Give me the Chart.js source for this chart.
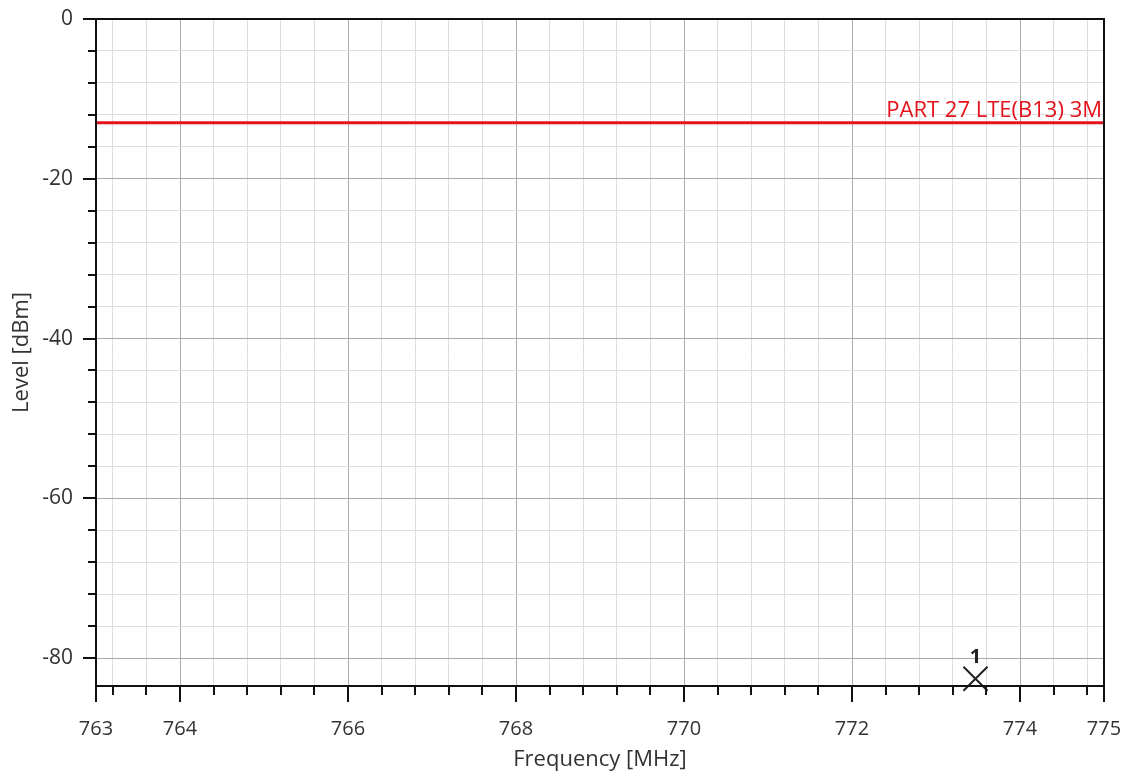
<!DOCTYPE html>
<html>
<head>
<meta charset="utf-8">
<title>Level vs Frequency</title>
<script src="https://cdn.jsdelivr.net/npm/chart.js@4"></script>
<style>
  html, body { margin: 0; padding: 0; background: #fff; }
  #wrap { width: 1127px; height: 774px; }
</style>
</head>
<body>
<div id="wrap"><canvas id="chartLevel"></canvas></div>
<script>
// axis ranges and labelled ticks
const freqRange = [763, 775]
const levelRange = [-83.5, 0]
const freqLabels = [763, 764, 766, 768, 770, 772, 774, 775]
const levelLabels = [0, -20, -40, -60, -80]

// limit line
const limitFreq = [763, 775]
const limitLevel = [-13, -13]
const limitName = "PART 27 LTE(B13) 3M"

// marker
const markerFreq = [773.47]
const markerLevel = [-82.6]
const markerNames = ["1"]

const freqStep = 0.4
const levelStep = 4
const fontFamily = "'Open Sans', 'DejaVu Sans', sans-serif"

function buildTicks(min, max, step, labels) {
    const vals = new Set(labels)
    for (let k = Math.ceil(min / step - 1e-9); k * step <= max + 1e-9; k++) {
        vals.add(Math.round(k * step * 10) / 10)
    }
    return [...vals].filter(v => v >= min && v <= max).sort((a, b) => a - b).map(v => ({ value: v }))
}

const decorPlugin = {
    id: "decor",
    afterDatasetsDraw(chart) {
        const { ctx, chartArea: a, scales: { x, y } } = chart
        ctx.save()

        // limit label, clipped to the plot
        ctx.save()
        ctx.beginPath()
        ctx.rect(a.left, a.top, a.right - a.left, a.bottom - a.top)
        ctx.clip()
        ctx.fillStyle = "#e5121b"
        ctx.font = "22px " + fontFamily
        ctx.textAlign = "right"
        ctx.textBaseline = "alphabetic"
        ctx.fillText(limitName, a.right - 2, y.getPixelForValue(limitLevel[1]) - 6)
        ctx.restore()

        // frame
        ctx.strokeStyle = "#111"
        ctx.lineWidth = 2
        ctx.strokeRect(a.left, a.top, a.right - a.left, a.bottom - a.top)

        // tick marks
        ctx.beginPath()
        x.ticks.forEach(t => {
            const px = Math.round(x.getPixelForValue(t.value))
            const len = freqLabels.includes(t.value) ? 16 : 9
            ctx.moveTo(px, a.bottom)
            ctx.lineTo(px, a.bottom + len)
        })
        y.ticks.forEach(t => {
            const py = Math.round(y.getPixelForValue(t.value))
            const len = levelLabels.includes(t.value) ? 13 : 8
            ctx.moveTo(a.left, py)
            ctx.lineTo(a.left - len, py)
        })
        ctx.stroke()

        // marker names
        const meta = chart.getDatasetMeta(1)
        ctx.fillStyle = "#222"
        ctx.font = "bold 20px " + fontFamily
        ctx.textAlign = "center"
        ctx.textBaseline = "alphabetic"
        meta.data.forEach((pt, i) => {
            ctx.fillText(markerNames[i], pt.x, pt.y - 16)
        })
        ctx.restore()
    }
}

const config = {
    type: "line",
    data: {
        datasets: [
            {
                label: limitName,
                data: limitFreq.map((f, i) => ({ x: f, y: limitLevel[i] })),
                borderColor: "#e5121b",
                borderWidth: 3,
                pointRadius: 0,
                fill: false,
            },
            {
                type: "scatter",
                label: "Marker",
                data: markerFreq.map((f, i) => ({ x: f, y: markerLevel[i] })),
                pointStyle: "crossRot",
                pointRadius: 17,
                borderColor: "#222",
                borderWidth: 2,
                clip: false,
            },
        ],
    },
    options: {
        responsive: true,
        maintainAspectRatio: false,
        animation: false,
        layout: { padding: { top: 18, right: 23, left: 0, bottom: 0 } },
        plugins: {
            legend: { display: false },
            tooltip: { enabled: false },
        },
        scales: {
            x: {
                type: "linear",
                min: freqRange[0],
                max: freqRange[1],
                afterBuildTicks: s => { s.ticks = buildTicks(freqRange[0], freqRange[1], freqStep, freqLabels) },
                afterFit: s => { s.height = 88; s.paddingLeft = 0; s.paddingRight = 0 },
                border: { display: false },
                grid: {
                    drawTicks: false,
                    color: c => freqLabels.includes(c.tick.value) ? "#a9a9a9" : "#dedede",
                    lineWidth: 1,
                },
                ticks: {
                    autoSkip: false,
                    maxRotation: 0,
                    padding: 31,
                    color: "#333",
                    font: { family: fontFamily, size: 20 },
                    callback: v => freqLabels.includes(v) ? String(v) : "",
                },
                title: {
                    display: true,
                    text: "Frequency [MHz]",
                    color: "#333",
                    font: { family: fontFamily, size: 22 },
                    padding: { top: 0, bottom: 1 },
                },
            },
            y: {
                type: "linear",
                min: levelRange[0],
                max: levelRange[1],
                afterBuildTicks: s => { s.ticks = buildTicks(levelRange[0], levelRange[1], levelStep, levelLabels) },
                afterFit: s => { s.width = 96; s.paddingTop = 0; s.paddingBottom = 0 },
                border: { display: false },
                grid: {
                    drawTicks: false,
                    color: c => levelLabels.includes(c.tick.value) ? "#a9a9a9" : "#dedede",
                    lineWidth: 1,
                },
                ticks: {
                    autoSkip: false,
                    padding: 23,
                    color: "#333",
                    font: { family: fontFamily, size: 21 },
                    callback: v => levelLabels.includes(v) ? String(v) : "",
                },
                title: {
                    display: true,
                    text: "Level [dBm]",
                    color: "#333",
                    font: { family: fontFamily, size: 22 },
                    padding: { top: 9, bottom: 0 },
                },
            },
        },
    },
    plugins: [decorPlugin],
}

const chartLevel = new Chart(document.getElementById("chartLevel"), config)
</script>
</body>
</html>
